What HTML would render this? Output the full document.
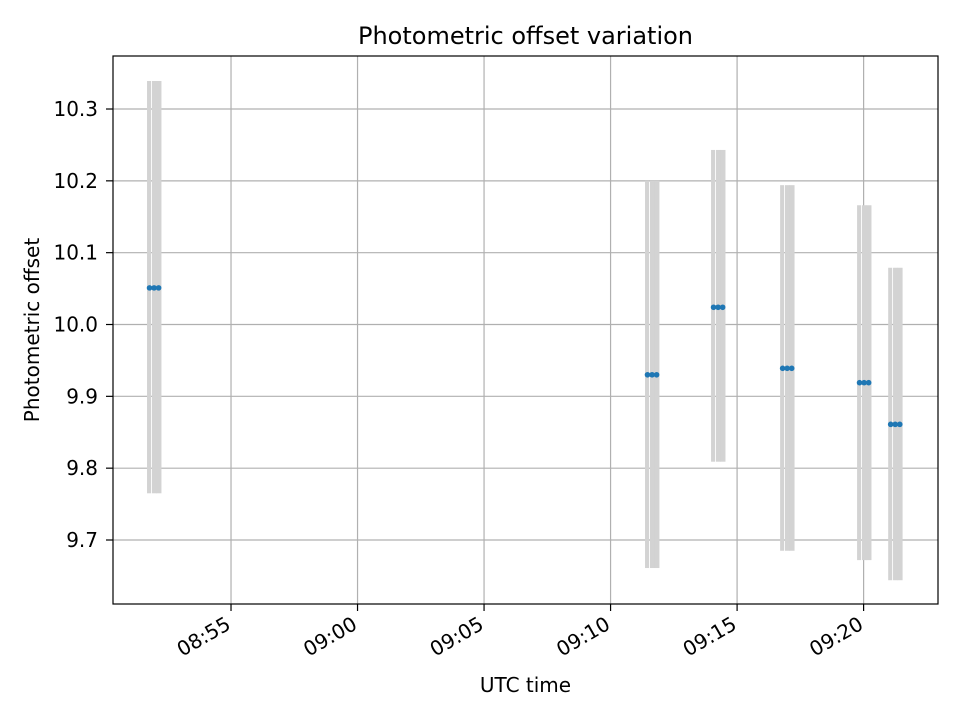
<!DOCTYPE html>
<html><head><meta charset="utf-8"><style>body{margin:0;background:#fff}svg{font-family:"DejaVu Sans","Liberation Sans",sans-serif}</style></head>
<body>
<svg id="c" width="960" height="720"></svg>
<script>
// minutes after 08:50 for group centers
const groupTimes=[1.96,21.64,24.25,26.98,30.02,31.25];
const offsets=[10.051,9.930,10.024,9.939,9.919,9.861];
const errHigh=[10.339,10.200,10.243,10.194,10.166,10.079];
const errLow=[9.765,9.661,9.809,9.685,9.672,9.644];
const xTicks=[5,10,15,20,25,30];
const xTickLabels=["08:55","09:00","09:05","09:10","09:15","09:20"];
const yTicks=[9.7,9.8,9.9,10.0,10.1,10.2,10.3];
const yTickLabels=["9.7","9.8","9.9","10.0","10.1","10.2","10.3"];
const L=113,R=938,T=56,B=604;
const x0=0.336,x1=32.94,y0=9.6109,y1=10.3738;
const X=v=>L+(v-x0)/(x1-x0)*(R-L);
const Y=v=>B-(v-y0)/(y1-y0)*(B-T);
const s=document.getElementById('c');const NS='http://www.w3.org/2000/svg';
function mk(t,a,name,txt){const e=document.createElementNS(NS,t);for(const k in a)e.setAttribute(k,a[k]);


if(txt!==undefined)e.textContent=txt;s.appendChild(e);return e;}
mk('rect',{x:L,y:T,width:R-L,height:B-T,fill:'#fff'},'plot-area');
xTicks.forEach((t,i)=>{const x=X(t);
mk('line',{x1:x,x2:x,y1:T,y2:B,stroke:'#b0b0b0','stroke-width':1.2},'x-grid-line');
mk('line',{x1:x,x2:x,y1:B,y2:B+7,stroke:'#000','stroke-width':1.2},'x-tick');
mk('text',{x:x+1,y:B+24,'font-size':20,'text-anchor':'end',transform:`rotate(-30 ${x+1} ${B+24})`},'x-tick-label',xTickLabels[i]);});
yTicks.forEach((t,i)=>{const y=Y(t);
mk('line',{x1:L,x2:R,y1:y,y2:y,stroke:'#b0b0b0','stroke-width':1.2},'y-grid-line');
mk('line',{x1:L-7,x2:L,y1:y,y2:y,stroke:'#000','stroke-width':1.2},'y-tick');
mk('text',{x:L-15,y:y+7,'font-size':20,'text-anchor':'end'},'y-tick-label',yTickLabels[i]);});
const d=[-0.18,0,0.18];
groupTimes.forEach((g,i)=>{d.forEach((o,j)=>{const x=X(g+o);
const w=j===0?4:5;
mk('rect',{x:j===0?x-2.5:x-2.2,y:Y(errHigh[i]),width:w,height:Y(errLow[i])-Y(errHigh[i]),fill:'#d3d3d3'},'error-bar');});});
groupTimes.forEach((g,i)=>{d.forEach(o=>{
mk('circle',{cx:X(g+o),cy:Y(offsets[i]),r:2.8,fill:'#1f77b4'},'data-point');});});
mk('rect',{x:L,y:T,width:R-L,height:B-T,fill:'none',stroke:'#000','stroke-width':1.2},'plot-frame');
mk('text',{x:(L+R)/2,y:44,'font-size':24,'text-anchor':'middle'},'chart-title','Photometric offset variation');
mk('text',{x:(L+R)/2,y:692,'font-size':20,'text-anchor':'middle'},'x-axis-title','UTC time');
mk('text',{x:39,y:330,'font-size':20,'text-anchor':'middle',transform:'rotate(-90 39 330)'},'y-axis-title','Photometric offset');
</script>
</body></html>
